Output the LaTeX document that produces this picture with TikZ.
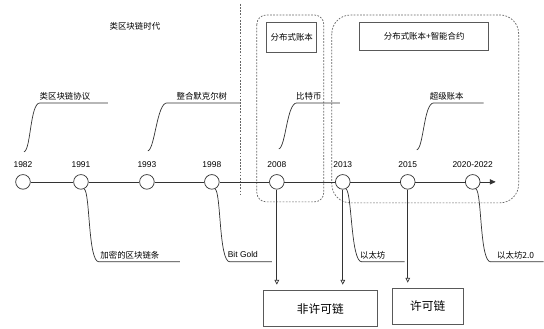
\documentclass[tikz,border=0pt]{standalone}
\usepackage{fontspec}
\setmainfont{Liberation Sans}
\newfontfamily\cjk{Noto Sans CJK SC}
\usetikzlibrary{arrows.meta}
\usetikzlibrary{positioning}
\colorlet{tlline}{black!80}
\colorlet{tlbox}{black!65}
\colorlet{tldot}{black!60}

\begin{document}
\begin{tikzpicture}[x=0.03cm,y=-0.03cm,line width=0.6pt,
    event/.style={circle,draw=tlline,fill=white,minimum size=12.5pt,inner sep=0pt},
    yearlbl/.style={font=\fontsize{7.2}{8}\selectfont,inner sep=1pt},
    note/.style={font=\cjk\fontsize{7.2}{8}\selectfont,inner sep=1pt},
    callout/.style={draw=tlline},
    era/.style={draw=tldot,dash pattern=on 1.5pt off 1.2pt},
    caption/.style={draw=tlbox,font=\cjk\fontsize{7.2}{8}\selectfont,inner sep=0pt},
    chain/.style={draw=tlbox,font=\cjk\fontsize{10}{12}\selectfont,inner sep=0pt},
    down/.style={draw=tlline,-{Triangle[open,length=4pt,width=4pt]},shorten >=5pt}]
    % Background
    \fill[white] (0,0) rectangle (544,329);
    % Eras
    \draw[era] (241,4) -- (241,195);
    \draw[era,rounded corners=8pt] (257,15) rectangle (324,202);
    \draw[era,rounded corners=16pt] (332,15) rectangle (519,203);
    \node[note] (era1) at (135,26) {类区块链时代};
    \node[caption,minimum width=42.7pt,minimum height=25.6pt] (ledger) at (292,37) {分布式账本};
    \node[caption,minimum width=110pt,minimum height=24pt] (smart) at (424.5,36) {分布式账本+智能合约};
    % Timeline
    \node[event] (y1982) at (23,182) {};
    \node[event] (y1991) at (81,182) {};
    \node[event] (y1993) at (147,182) {};
    \node[event] (y1998) at (212,182) {};
    \node[event] (y2008) at (277,182) {};
    \node[event] (y2013) at (343,182) {};
    \node[event] (y2015) at (408,182) {};
    \node[event] (y2020) at (473,182) {};
    \coordinate (tlend) at (496,182);
    \draw[tlline] (y1982) -- (y1991) -- (y1993) -- (y1998)
        -- (y2008) -- (y2013) -- (y2015) -- (y2020);
    \draw[tlline,-{Triangle[length=5pt,width=4.5pt]}] (y2020) -- (tlend);
    \node[yearlbl,above=4pt of y1982] (t1982) {1982};
    \node[yearlbl,above=4pt of y1991] (t1991) {1991};
    \node[yearlbl,above=4pt of y1993] (t1993) {1993};
    \node[yearlbl,above=4pt of y1998] (t1998) {1998};
    \node[yearlbl,above=4pt of y2008] (t2008) {2008};
    \node[yearlbl,above=4pt of y2013] (t2013) {2013};
    \node[yearlbl,above=4pt of y2015] (t2015) {2015};
    \node[yearlbl,above=4pt of y2020] (t2020) {2020-2022};
    % Callouts above
    \draw[callout] (24,152) .. controls +(7,-2) and +(-10,0) .. (40,103) -- (108,103);
    \node[note] (n1982) at (65,96) {类区块链协议};
    \draw[callout] (148,151) .. controls +(7,-2) and +(-10,0) .. (167,103) -- (240,103);
    \node[note] (n1993) at (202,96) {整合默克尔树};
    \draw[callout] (279,149) .. controls +(7,-2) and +(-10,0) .. (297,103) -- (340,103);
    \node[note] (n2008) at (309,96) {比特币};
    \draw[callout] (417,150) .. controls +(7,-2) and +(-10,0) .. (434,103) -- (484,103);
    \node[note] (n2015) at (447,96) {超级账本};
    % Callouts below
    \draw[callout] (y1991.-65) .. controls +(6,4) and +(-11,0) .. (99,262) -- (180,262);
    \node[note] (n1991) at (130,255) {加密的区块链条};
    \draw[callout] (y1998.-65) .. controls +(6,4) and +(-11,0) .. (230,262) -- (272,262);
    \node[yearlbl] (n1998) at (243,255) {Bit Gold};
    \draw[callout] (y2013.-65) .. controls +(6,4) and +(-11,0) .. (362,262) -- (405,262);
    \node[note] (n2013) at (373,255) {以太坊};
    \draw[callout] (y2020.-65) .. controls +(6,4) and +(-11,0) .. (491,262) -- (544,262);
    \node[note] (n2020) at (516,255) {以太坊2.0};
    % Chains
    \node[chain,minimum width=98pt,minimum height=30.7pt] (nonperm) at (320.5,309) {非许可链};
    \node[chain,minimum width=60pt,minimum height=30pt] (perm) at (428,306.5) {许可链};
    \draw[down] (y2008) -- (y2008 |- nonperm.north);
    \draw[down] (y2013) -- (y2013 |- nonperm.north);
    \draw[down] (y2015) -- (y2015 |- perm.north);
\end{tikzpicture}
\end{document}
